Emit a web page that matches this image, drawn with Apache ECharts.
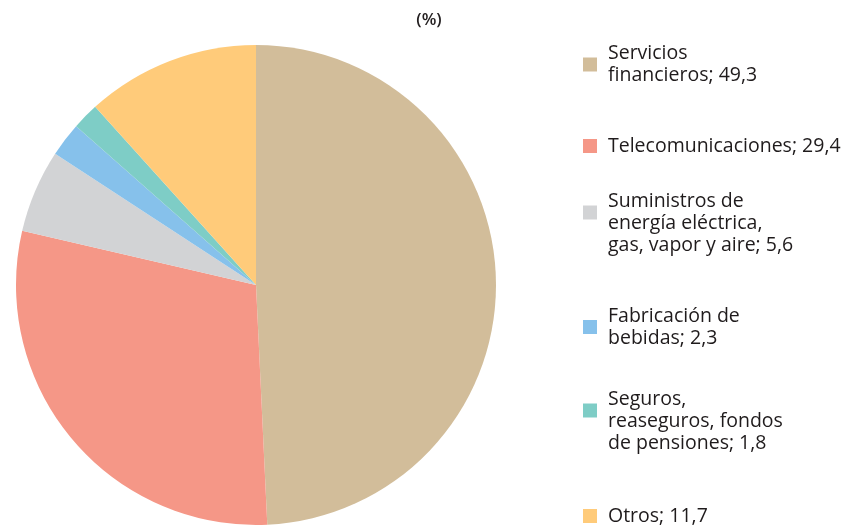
<!DOCTYPE html>
<html>
<head>
<meta charset="utf-8">
<script src="https://cdn.jsdelivr.net/npm/echarts@6/dist/echarts.min.js"></script>
<style>html,body{margin:0;padding:0;background:#fff}#c{width:855px;height:528px}</style>
</head>
<body>
<div id="c"></div>
<script>
var categories = [
  "Servicios\nfinancieros",
  "Telecomunicaciones",
  "Suministros de\nenergía eléctrica,\ngas, vapor y aire",
  "Fabricación de\nbebidas",
  "Seguros,\nreaseguros, fondos\nde pensiones",
  "Otros"
];
var values = [49.3, 29.4, 5.6, 2.3, 1.8, 11.7];
var labels = ["49,3", "29,4", "5,6", "2,3", "1,8", "11,7"];
var colors = ["#d2bd9a", "#f59787", "#d2d3d5", "#86c1eb", "#7ecdc6", "#ffcb7a"];
var legendTops = [42.5, 135, 168.5, 305, 366.5, 505];

var chart = echarts.init(document.getElementById('c'));
var data = categories.map(function (c, i) {
  return { name: c, value: values[i], itemStyle: { color: colors[i] } };
});
var legends = categories.map(function (c, i) {
  return {
    data: [c],
    orient: 'vertical',
    left: 583,
    top: legendTops[i],
    padding: 0,
    itemWidth: 14,
    itemHeight: 14,
    itemGap: 0,
    icon: 'rect',
    selectedMode: false,
    formatter: function (name) {
      var idx = categories.indexOf(name);
      var lines = name.split('\n').length;
      return (lines === 3 ? '\n' : '') + name + '; ' + labels[idx];
    },
    textStyle: {
      fontFamily: 'Open Sans',
      fontSize: 19.5,
      color: '#1f1b1c',
      lineHeight: 22,
      padding: [0, 0, 0, 6]
    }
  };
});
chart.setOption({
  animation: false,
  title: {
    text: '(%)',
    left: 429,
    top: 10,
    padding: 0,
    textAlign: 'center',
    textStyle: { fontFamily: 'Open Sans', fontSize: 17, fontWeight: 600, color: '#231f20', lineHeight: 20 }
  },
  legend: legends,
  series: [{
    type: 'pie',
    center: [256, 285],
    radius: 240,
    startAngle: 90,
    clockwise: true,
    label: { show: false },
    labelLine: { show: false },
    emphasis: { disabled: true },
    itemStyle: { borderWidth: 0 },
    data: data
  }]
});
</script>
</body>
</html>
